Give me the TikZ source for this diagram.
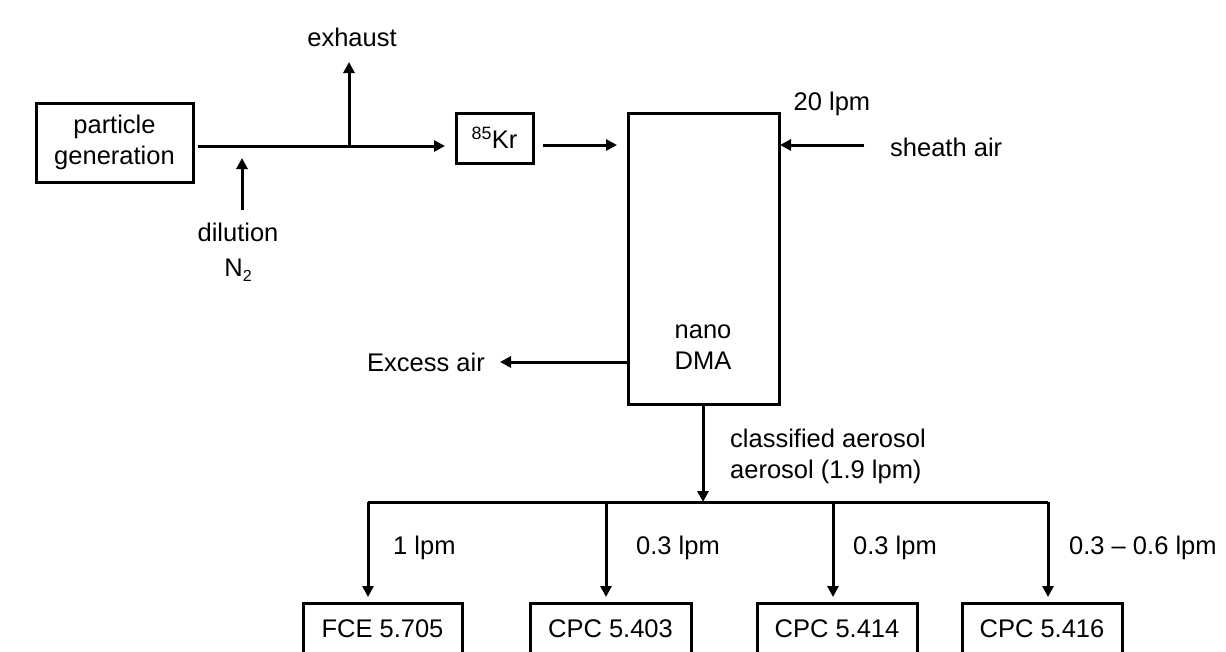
\documentclass[tikz,border=0pt]{standalone}
\usepackage{fontspec}
\setmainfont{Liberation Sans}
\usetikzlibrary{arrows.meta}
\begin{document}
\begin{tikzpicture}[x=1pt,y=-1pt,
  every node/.style={font=\fontsize{25.5}{31}\selectfont, inner sep=0pt, align=center},
  box/.style={draw, line width=3pt},
  conn/.style={line width=3pt},
  arr/.style={conn, -{Triangle[length=11pt,width=11pt]}},
  lbl/.style={anchor=west}]
\useasboundingbox (0,0) rectangle (1226,651);
\clip (0,0) rectangle (1226,651);
% boxes
\node[box, minimum width=157pt, minimum height=79pt] (pg) at (114.5,142.5) {particle\\generation};
\node[box, minimum width=77pt, minimum height=50pt] (kr) at (494.5,138) {\textsuperscript{85}Kr};
\node[box, minimum width=151pt, minimum height=291pt] (dma) at (703.5,258.5) {};
\node (dmatext) at (703,347) {nano\\DMA};
\node[box, minimum width=159pt, minimum height=51pt] (fce) at (382.5,628.5) {FCE 5.705};
\node[box, minimum width=161pt, minimum height=51pt] (c403) at (610.5,628.5) {CPC 5.403};
\node[box, minimum width=160pt, minimum height=51pt] (c414) at (837,628.5) {CPC 5.414};
\node[box, minimum width=160pt, minimum height=51pt] (c416) at (1042,628.5) {CPC 5.416};
% labels
\node (exhaust) at (352,37) {exhaust};
\node (dilution) at (238,252) {dilution\\[4pt]N\raisebox{-5pt}{\fontsize{16}{16}\selectfont 2}};
\node (lpm20) at (832,104) {20 lpm};
\node[lbl] (sheath) at (890,147) {sheath air};
\node[anchor=east] (excess) at (485,362) {Excess air};
\node[lbl, align=left] (classified) at (730,456) {classified aerosol\\aerosol (1.9 lpm)};
\node[lbl] (l1) at (393,548) {1 lpm};
\node[lbl] (l2) at (636,548) {0.3 lpm};
\node[lbl] (l3) at (853,548) {0.3 lpm};
\node[lbl] (l4) at (1069,548) {0.3 -- 0.6 lpm};
% coordinates
\coordinate (mainS) at (198,146);
\coordinate (mainE) at (445,146);
\coordinate (exJ) at (349,146);
\coordinate (exT) at (349,62);
\coordinate (dilS) at (242,210);
\coordinate (dilT) at (242,158);
\coordinate (krS) at (543,145);
\coordinate (krT) at (617,145);
\coordinate (shS) at (864,145);
\coordinate (shT) at (780,145);
\coordinate (exS) at (627,362);
\coordinate (exE) at (500,362);
\coordinate (dmaB) at (703,404);
\coordinate (busM) at (703,502);
\coordinate (busL) at (368,502);
\coordinate (busR) at (1048,502);
\coordinate (b2) at (606,502);
\coordinate (b3) at (833,502);
% connectors
\draw[arr] (mainS) -- (mainE);
\draw[arr] (exJ) -- (exT);
\draw[arr] (dilS) -- (dilT);
\draw[arr] (krS) -- (krT);
\draw[arr] (shS) -- (shT);
\draw[arr] (exS) -- (exE);
\draw[arr] (dmaB) -- (busM);
\draw[conn] (busL) -- (busR);
\draw[arr] (busL) -- (busL |- 0,597);
\draw[arr] (b2) -- (b2 |- 0,597);
\draw[arr] (b3) -- (b3 |- 0,597);
\draw[arr] (busR) -- (busR |- 0,597);
\end{tikzpicture}
\end{document}
